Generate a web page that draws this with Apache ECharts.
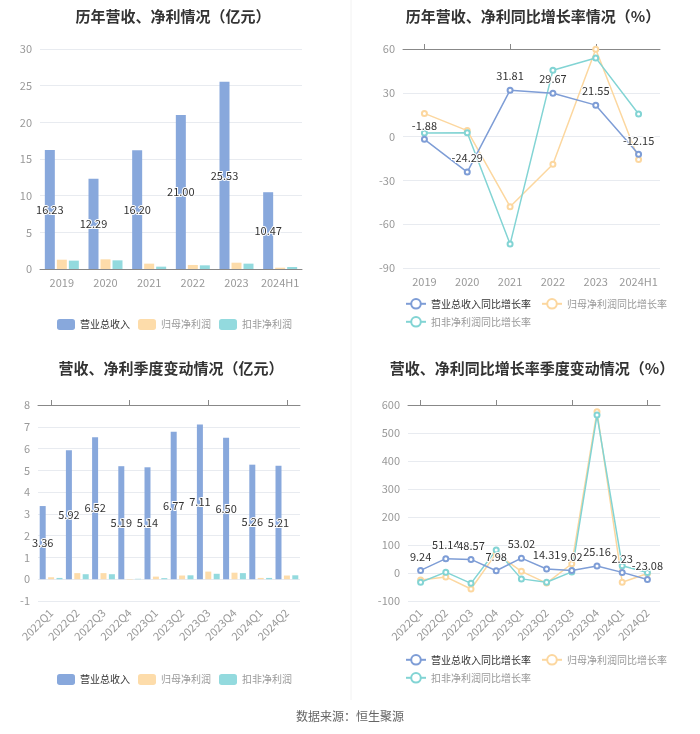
<!DOCTYPE html>
<html><head><meta charset="utf-8">
<script src="https://cdn.jsdelivr.net/npm/echarts@6/dist/echarts.min.js"></script>
<style>html,body{margin:0;padding:0;background:#fff}#c{width:700px;height:734px}</style>
</head><body><div id="c"></div>
<script>
// ---- data ----
const years = ['2019','2020','2021','2022','2023','2024H1'];
const yearRevenue = [16.23, 12.29, 16.20, 21.00, 25.53, 10.47];
const yearParentProfit = [1.27, 1.32, 0.73, 0.55, 0.86, 0.18];
const yearDeductProfit = [1.14, 1.18, 0.32, 0.50, 0.73, 0.27];
const yearRevenueGrowth = [-1.88, -24.29, 31.81, 29.67, 21.55, -12.15];
const yearParentGrowth = [15.9, 4.1, -48.0, -18.9, 59.8, -15.7];
const yearDeductGrowth = [2.5, 2.7, -73.6, 45.5, 53.9, 15.5];

const quarters = ['2022Q1','2022Q2','2022Q3','2022Q4','2023Q1','2023Q2','2023Q3','2023Q4','2024Q1','2024Q2'];
const qRevenue = [3.36, 5.92, 6.52, 5.19, 5.14, 6.77, 7.11, 6.50, 5.26, 5.21];
const qParentProfit = [0.09, 0.28, 0.28, -0.02, 0.12, 0.17, 0.35, 0.30, 0.06, 0.17];
const qDeductProfit = [0.06, 0.23, 0.23, 0.02, 0.05, 0.18, 0.25, 0.28, 0.06, 0.18];
const qRevenueGrowth = [9.24, 51.14, 48.57, 7.98, 53.02, 14.31, 9.02, 25.16, 2.23, -23.08];
const qParentGrowth = [-25, -14, -57, 70, 6, -36, 33, 576, -33, -2];
const qDeductGrowth = [-33, 3, -37, 82, -21, -33, 4, 564, 26, 2];

const nameRev = '营业总收入', nameParent = '归母净利润', nameDeduct = '扣非净利润';
const gRev = '营业总收入同比增长率', gParent = '归母净利润同比增长率', gDeduct = '扣非净利润同比增长率';

// ---- styles ----
const C_BLUE = '#88a8dc', C_ORANGE = '#fddcaa', C_TEAL = '#93dade';
const L_BLUE = '#7e9dd6', L_ORANGE = '#fcd79f', L_TEAL = '#82d4d4';
const FONT = 'Noto Sans CJK SC';
const axisLbl = {color:'#999', fontSize:11, fontFamily: FONT, interval:0};
const splitL = {lineStyle:{color:'#e8ebf0'}};
const valLabel = {show:true, color:'#333', fontSize:11, fontFamily:FONT, textBorderColor:'#fff', textBorderWidth:2,
  formatter: p => p.value.toFixed(2)};

function titleOf(text, cx, top){
  return {text, left: cx, top, textAlign:'center',
    textStyle:{fontSize:15, fontWeight:'bold', color:'#333', fontFamily:FONT}};
}
function legendItems(names, first){
  return names.map((n,i)=>({name:n, textStyle:{color: (first && i===0) ? '#333' : '#999'}}));
}
function barLegend(top){
  return {data: legendItems([nameRev,nameParent,nameDeduct], true), left:52, top, itemWidth:18, itemHeight:11, itemGap:8,
     icon:'roundRect', textStyle:{fontSize:10, fontFamily:FONT}};
}
function lineLegend(names, first, top){
  return {data: legendItems(names, first), left:400, top, itemWidth:20, itemHeight:12, itemGap:10,
     textStyle:{fontSize:10, fontFamily:FONT}};
}

const option = {
  animation:false,
  textStyle:{fontFamily:FONT},
  title:[
    titleOf('历年营收、净利情况（亿元）', 168, 4),
    titleOf('历年营收、净利同比增长率情况（%）', 528, 4),
    titleOf('营收、净利季度变动情况（亿元）', 166, 356),
    titleOf('营收、净利同比增长率季度变动情况（%）', 527, 356),
  ],
  legend:[
    barLegend(314),
    lineLegend([gRev,gParent], true, 293),
    lineLegend([gDeduct], false, 311),
    barLegend(669),
    lineLegend([gRev,gParent], true, 649),
    lineLegend([gDeduct], false, 667),
  ],
  grid:[
    {left:40, top:49, width:262, height:220},
    {left:403, top:49, width:257, height:219},
    {left:38, top:405, width:262, height:196},
    {left:408, top:405, width:252, height:196},
  ],
  xAxis:[
    {gridIndex:0, type:'category', data:years, axisLabel:axisLbl, axisTick:{show:false}, axisLine:{lineStyle:{color:'#888'}}},
    {gridIndex:1, type:'category', data:years, axisLabel:axisLbl, axisTick:{show:false}, axisLine:{show:false}},
    {gridIndex:1, type:'category', data:years, axisLabel:{show:false}, axisTick:{show:true, alignWithLabel:true, lineStyle:{color:'#888'}}, axisLine:{onZero:true, lineStyle:{color:'#888'}}},
    {gridIndex:2, type:'category', data:quarters, axisLabel:Object.assign({rotate:45, margin:10}, axisLbl), axisTick:{show:false}, axisLine:{show:false}},
    {gridIndex:2, type:'category', data:quarters, axisLabel:{show:false}, axisTick:{show:true, alignWithLabel:true, lineStyle:{color:'#888'}}, axisLine:{onZero:true, lineStyle:{color:'#888'}}},
    {gridIndex:3, type:'category', data:quarters, axisLabel:Object.assign({rotate:45, margin:10}, axisLbl), axisTick:{show:false}, axisLine:{show:false}},
    {gridIndex:3, type:'category', data:quarters, axisLabel:{show:false}, axisTick:{show:true, alignWithLabel:true, lineStyle:{color:'#888'}}, axisLine:{onZero:true, lineStyle:{color:'#888'}}},
  ],
  yAxis:[
    {gridIndex:0, type:'value', min:0, max:30, interval:5, axisLabel:axisLbl, splitLine:splitL},
    {gridIndex:1, type:'value', min:-90, max:60, interval:30, axisLabel:axisLbl, splitLine:splitL},
    {gridIndex:2, type:'value', min:-1, max:8, interval:1, axisLabel:axisLbl, splitLine:splitL},
    {gridIndex:3, type:'value', min:-100, max:600, interval:100, axisLabel:axisLbl, splitLine:splitL},
  ],
  series:[
    {name:nameRev, type:'bar', xAxisIndex:0, yAxisIndex:0, data:yearRevenue, barWidth:10, barGap:'20%', itemStyle:{color:C_BLUE},
     label:Object.assign({position:'inside'}, valLabel)},
    {name:nameParent, type:'bar', xAxisIndex:0, yAxisIndex:0, data:yearParentProfit, barWidth:10, barGap:'20%', itemStyle:{color:C_ORANGE}},
    {name:nameDeduct, type:'bar', xAxisIndex:0, yAxisIndex:0, data:yearDeductProfit, barWidth:10, barGap:'20%', itemStyle:{color:C_TEAL}},

    {name:gRev, type:'line', xAxisIndex:1, yAxisIndex:1, data:yearRevenueGrowth, symbol:'emptyCircle', symbolSize:5,
     lineStyle:{color:L_BLUE, width:1.5}, itemStyle:{color:L_BLUE}, label:Object.assign({position:'top'}, valLabel), z:5},
    {name:gParent, type:'line', xAxisIndex:1, yAxisIndex:1, data:yearParentGrowth, symbol:'emptyCircle', symbolSize:5,
     lineStyle:{color:L_ORANGE, width:1.5}, itemStyle:{color:L_ORANGE}},
    {name:gDeduct, type:'line', xAxisIndex:1, yAxisIndex:1, data:yearDeductGrowth, symbol:'emptyCircle', symbolSize:5,
     lineStyle:{color:L_TEAL, width:1.5}, itemStyle:{color:L_TEAL}},

    {name:nameRev, type:'bar', xAxisIndex:3, yAxisIndex:2, data:qRevenue, barWidth:6, barGap:'40%', itemStyle:{color:C_BLUE},
     label:Object.assign({position:'inside'}, valLabel)},
    {name:nameParent, type:'bar', xAxisIndex:3, yAxisIndex:2, data:qParentProfit, barWidth:6, barGap:'40%', itemStyle:{color:C_ORANGE}},
    {name:nameDeduct, type:'bar', xAxisIndex:3, yAxisIndex:2, data:qDeductProfit, barWidth:6, barGap:'40%', itemStyle:{color:C_TEAL}},

    {name:gRev, type:'line', xAxisIndex:5, yAxisIndex:3, data:qRevenueGrowth, symbol:'emptyCircle', symbolSize:5,
     lineStyle:{color:L_BLUE, width:1.5}, itemStyle:{color:L_BLUE}, label:Object.assign({position:'top'}, valLabel), z:5},
    {name:gParent, type:'line', xAxisIndex:5, yAxisIndex:3, data:qParentGrowth, symbol:'emptyCircle', symbolSize:5,
     lineStyle:{color:L_ORANGE, width:1.5}, itemStyle:{color:L_ORANGE}},
    {name:gDeduct, type:'line', xAxisIndex:5, yAxisIndex:3, data:qDeductGrowth, symbol:'emptyCircle', symbolSize:5,
     lineStyle:{color:L_TEAL, width:1.5}, itemStyle:{color:L_TEAL}},
  ],
  graphic:[
    {type:'line', shape:{x1:351, y1:0, x2:351, y2:700}, style:{stroke:'#f2f2f2', lineWidth:1}},
    {type:'text', left:'center', top:710, style:{text:'数据来源：恒生聚源', fill:'#666', fontSize:12, fontFamily:FONT}},
  ],
};
const chart = echarts.init(document.getElementById('c'), null, {renderer:'canvas'});
chart.setOption(option);
</script></body></html>
